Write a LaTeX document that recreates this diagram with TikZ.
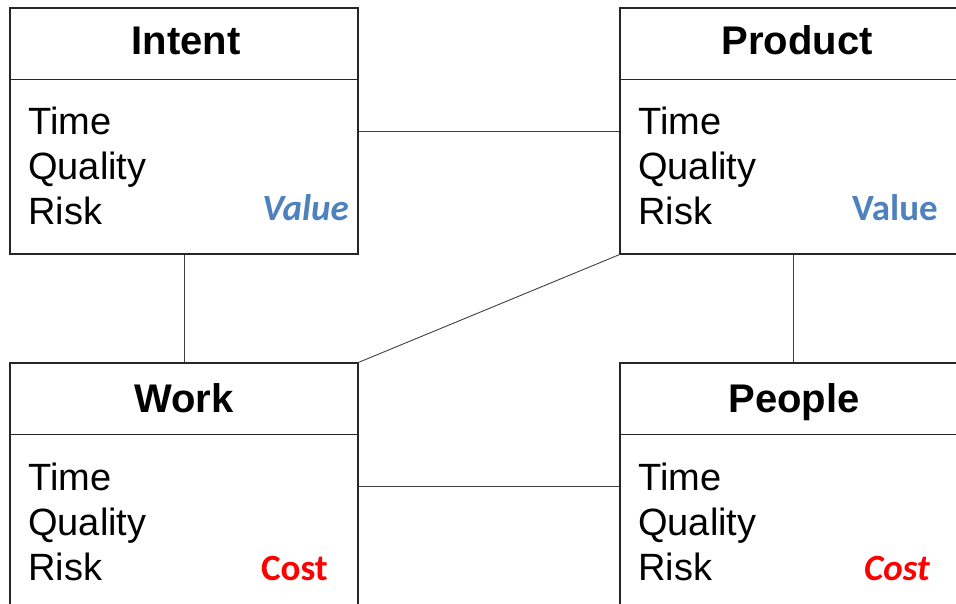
\documentclass[tikz,border=0pt]{standalone}
\usepackage{fontspec}
\setmainfont{Liberation Sans}
\newfontfamily\calibri{Carlito}
\usetikzlibrary{calc}
\definecolor{valblue}{HTML}{4F81BD}
\definecolor{costred}{HTML}{FF0000}
\newcommand\trqlines[3]{%
  \node[bodytext] (#1-t) at (#2,#3) {Time};
  \node[bodytext] (#1-q) at (#2,#3+45) {Quality};
  \node[bodytext] (#1-r) at (#2,#3+90) {Risk};}
\newcommand\headdivider[1]{%
  \draw[divider] ($(#1.north west)+(0,72)$) -- ($(#1.north east)+(0,72)$);}
\begin{document}
\begin{tikzpicture}[x=1pt,y=-1pt,
  entity/.style={draw=black!85, line width=1.3pt, minimum width=348pt, minimum height=246pt, inner sep=0pt},
  divider/.style={draw=black!85, line width=1.1pt},
  link/.style={draw=black!75, line width=0.9pt},
  headtext/.style={anchor=base, inner sep=0pt, font=\fontsize{40}{48}\selectfont\bfseries},
  bodytext/.style={anchor=base west, inner sep=0pt, font=\fontsize{38}{45}\selectfont},
  valtext/.style={anchor=base east, inner sep=0pt, text=valblue, font=\calibri\fontsize{37}{44}\selectfont\bfseries},
  costtext/.style={anchor=base east, inner sep=0pt, text=costred, font=\calibri\fontsize{37}{44}\selectfont\bfseries}]
\useasboundingbox (0,0) rectangle (956,604);
\clip (0,0) rectangle (956,604);
\fill[white] (0,0) rectangle (956,604);
% boxes
\node[entity] (intent) at (184,131) {};
\node[entity, minimum width=346pt] (product) at (793,131) {};
\node[entity] (work) at (184,486) {};
\node[entity, minimum width=346pt] (people) at (793,486) {};
\headdivider{intent}
\headdivider{product}
\headdivider{work}
\headdivider{people}
% connectors
\draw[link] (intent.east) -- (product.west);
\draw[link] (intent.south) -- (work.north);
\draw[link] (product.south west) -- (work.north east);
\draw[link] (product.south) -- (people.north);
\draw[link] (work.east) -- (people.west);
% headings
\node[headtext] (intent-h) at (186,55) {Intent};
\node[headtext] (product-h) at (797,55) {Product};
\node[headtext] (work-h) at (184,412) {Work};
\node[headtext] (people-h) at (794,412) {People};
% body lines
\trqlines{intent}{28}{135}
\trqlines{product}{638}{135}
\trqlines{work}{28}{490}
\trqlines{people}{638}{490}
% value / cost
\node[valtext, font=\calibri\fontsize{37}{44}\selectfont\bfseries\itshape] (intent-v) at (349,221) {Value};
\node[valtext] (product-v) at (938,221) {Value};
\node[costtext] (work-c) at (328,580) {Cost};
\node[costtext, font=\calibri\fontsize{37}{44}\selectfont\bfseries\itshape] (people-c) at (930,580) {Cost};
\end{tikzpicture}
\end{document}
